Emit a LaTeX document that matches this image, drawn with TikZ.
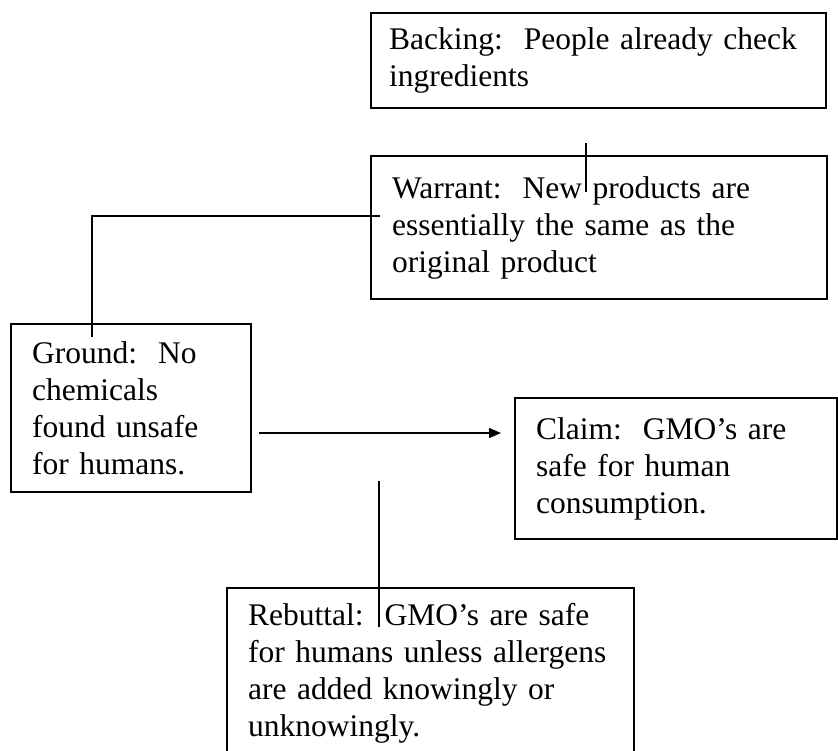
\documentclass[tikz,border=0pt]{standalone}
\usepackage{fontspec}
\setmainfont{Liberation Serif}
\usetikzlibrary{arrows.meta}

\begin{document}
\begin{tikzpicture}[x=1pt, y=-1pt, box/.style={draw, line width=2.4pt, anchor=north west, inner xsep=21pt, inner ysep=0pt, align=left, font=\fontsize{31.5}{36.8}\selectfont}, link/.style={line width=1.3pt}]
		\useasboundingbox (0,0) rectangle (838,751);
		\node[box, inner xsep=18pt, minimum width=455pt, minimum height=95pt, text width=419pt] (backing) at (370,12) {Backing:\ \ People already check\\ingredients};
		\node[box, minimum width=456pt, minimum height=143pt, text width=414pt] (warrant) at (370,155) {Warrant:\ \ New products are\\essentially the same as the\\original product};
		\node[box, minimum width=240pt, minimum height=168pt, text width=198pt] (ground) at (10,323) {Ground:\ \ No\\chemicals\\found unsafe\\for humans.};
		\node[box, minimum width=322pt, minimum height=141pt, text width=280pt] (claim) at (514,397) {Claim:\ \ GMO’s are\\safe for human\\consumption.};
		\node[box, minimum width=407pt, minimum height=170pt, text width=365pt] (rebuttal) at (226,587) {Rebuttal:\ \ GMO’s are safe\\for humans unless allergens\\are added knowingly or\\unknowingly.};
		\coordinate (backing-out) at (586,143);
		\coordinate (warrant-in) at (586,192);
		\coordinate (ground-up) at (92,337);
		\coordinate (warrant-side) at (380,216);
		\coordinate (ground-out) at (259,433);
		\coordinate (claim-in) at (501,433);
		\coordinate (rebuttal-up) at (379,481);
		\coordinate (rebuttal-in) at (379,627);
		\draw[link] (backing-out) -- (warrant-in);
		\draw[link] (ground-up) |- (warrant-side);
		\draw[link, -{Triangle[length=12pt, width=10pt]}] (ground-out) -- (claim-in);
		\draw[link] (rebuttal-up) -- (rebuttal-in);
	\end{tikzpicture}
\end{document}
